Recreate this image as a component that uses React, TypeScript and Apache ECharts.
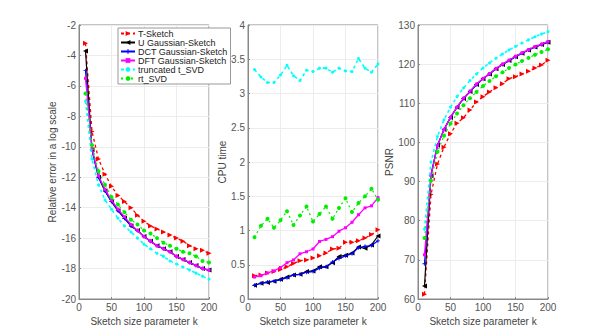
import React, { useEffect, useRef } from "react";
import * as echarts from "echarts";

const kValues = [10, 20, 30, 40, 50, 60, 70, 80, 90, 100, 110, 120, 130, 140, 150, 160, 170, 180, 190, 200];

const seriesNames = ["T-Sketch", "U Gaussian-Sketch", "DCT Gaussian-Sketch", "DFT Gaussian-Sketch", "truncated t_SVD", "rt_SVD"];

// Panel 1: relative error (log scale)
const errT = [-3.2, -9.0, -10.8, -11.8, -12.6, -13.2, -13.6, -14.0, -14.5, -14.9, -15.2, -15.4, -15.6, -15.8, -16.0, -16.2, -16.5, -16.7, -16.8, -17.0];
const errU = [-3.7, -10.2, -12.0, -12.9, -13.6, -14.2, -14.7, -15.2, -15.5, -15.9, -16.2, -16.5, -16.7, -16.9, -17.2, -17.4, -17.6, -17.8, -18.0, -18.1];
const errDCT = [-5.0, -10.2, -12.0, -12.9, -13.6, -14.2, -14.7, -15.2, -15.5, -15.9, -16.2, -16.5, -16.7, -16.9, -17.2, -17.4, -17.6, -17.8, -18.0, -18.1];
const errDFT = [-5.5, -10.1, -11.9, -12.8, -13.5, -14.1, -14.6, -15.1, -15.5, -15.9, -16.2, -16.5, -16.7, -16.9, -17.2, -17.4, -17.6, -17.8, -18.0, -18.1];
const errTSVD = [-7.0, -10.8, -12.5, -13.5, -14.1, -14.7, -15.2, -15.6, -16.0, -16.4, -16.7, -17.0, -17.2, -17.5, -17.7, -17.9, -18.1, -18.3, -18.5, -18.7];
const errRT = [-6.5, -9.9, -11.6, -12.5, -13.3, -13.8, -14.3, -14.8, -15.1, -15.5, -15.7, -16.0, -16.3, -16.5, -16.7, -16.9, -17.0, -17.2, -17.5, -17.6];

// Panel 2: CPU time
const cpuT = [0.34, 0.35, 0.38, 0.40, 0.43, 0.47, 0.52, 0.56, 0.57, 0.60, 0.63, 0.67, 0.73, 0.74, 0.83, 0.83, 0.85, 0.89, 0.94, 1.01];
const cpuU = [0.20, 0.23, 0.24, 0.26, 0.29, 0.32, 0.35, 0.36, 0.40, 0.41, 0.47, 0.47, 0.53, 0.62, 0.64, 0.67, 0.76, 0.74, 0.79, 0.92];
const cpuDCT = [0.20, 0.23, 0.25, 0.26, 0.28, 0.31, 0.35, 0.36, 0.39, 0.40, 0.45, 0.47, 0.54, 0.59, 0.63, 0.66, 0.75, 0.77, 0.78, 0.85];
const cpuDFT = [0.32, 0.34, 0.38, 0.41, 0.46, 0.53, 0.57, 0.66, 0.69, 0.73, 0.84, 0.87, 0.91, 0.99, 1.04, 1.12, 1.23, 1.33, 1.36, 1.48];
const cpuTSVD = [3.35, 3.24, 3.16, 3.16, 3.27, 3.41, 3.26, 3.19, 3.34, 3.32, 3.37, 3.37, 3.31, 3.37, 3.33, 3.32, 3.51, 3.37, 3.31, 3.43];
const cpuRT = [0.90, 1.07, 1.17, 1.04, 1.15, 1.28, 1.08, 1.22, 1.35, 1.13, 1.24, 1.35, 1.17, 1.33, 1.47, 1.27, 1.40, 1.50, 1.61, 1.45];

// Panel 3: PSNR
const psnrT = [61.2, 86.7, 94.5, 98.8, 102.2, 104.9, 106.3, 108.3, 110.3, 111.7, 112.9, 114.0, 115.0, 116.3, 116.8, 117.5, 118.2, 119.0, 119.8, 121.0];
const psnrU = [63.3, 91.5, 99.3, 103.3, 106.4, 109.0, 111.2, 113.0, 114.8, 116.3, 117.5, 118.8, 119.9, 120.9, 121.9, 122.8, 123.6, 124.4, 125.0, 125.6];
const psnrDCT = [69.0, 91.8, 99.3, 103.3, 106.4, 109.0, 111.2, 113.0, 114.8, 116.3, 117.5, 118.8, 119.9, 120.9, 121.9, 122.8, 123.6, 124.4, 125.0, 125.6];
const psnrDFT = [71.3, 91.6, 99.2, 103.3, 106.4, 109.0, 111.3, 113.1, 114.9, 116.3, 117.6, 118.9, 120.0, 121.0, 122.0, 122.9, 123.7, 124.5, 125.1, 125.8];
const psnrTSVD = [77.8, 95.0, 101.5, 105.8, 109.0, 111.7, 113.9, 115.8, 117.5, 119.0, 120.3, 121.5, 122.6, 123.6, 124.5, 125.4, 126.2, 127.0, 127.7, 128.3];
const psnrRT = [75.6, 90.2, 97.6, 101.7, 104.8, 107.4, 109.5, 111.3, 112.9, 114.4, 115.7, 116.9, 117.9, 119.0, 119.9, 120.8, 121.6, 122.4, 123.1, 123.8];

const panelData = [
  [errT, errU, errDCT, errDFT, errTSVD, errRT],
  [cpuT, cpuU, cpuDCT, cpuDFT, cpuTSVD, cpuRT],
  [psnrT, psnrU, psnrDCT, psnrDFT, psnrTSVD, psnrRT],
];

const yNames = ["Relative error in a log scale", "CPU time", "PSNR"];
const yMins = [-20, 0, 60];
const yMaxs = [-2, 4, 130];
const yIntervals = [2, 0.5, 10];

const plusPath = "path://M4,0H6V4H10V6H6V10H4V6H0V4H4Z";

const styles: any[] = [
  { color: "#ff0000", type: [3, 3], symbol: "triangle", rotate: -90, size: 5, width: 1.3 },
  { color: "#000000", type: "solid", symbol: "triangle", rotate: 90, size: 5, width: 1.2 },
  { color: "#0000ff", type: "solid", symbol: plusPath, rotate: 0, size: 4, width: 1.2 },
  { color: "#ff00ff", type: "solid", symbol: "rect", rotate: 0, size: 3, width: 1.3 },
  { color: "#00ffff", type: [3, 3], symbol: "circle", rotate: 0, size: 3, width: 1.6 },
  { color: "#00ee00", type: [2, 3], symbol: "circle", rotate: 0, size: 4, width: 1.2 },
];

const lefts = [79, 248, 418];

export default function App() {
  const ref = useRef<HTMLDivElement>(null);
  useEffect(() => {
    if (!ref.current) return;
    const chart = echarts.init(ref.current, null, { renderer: "svg" });
    const font = "Liberation Sans, Arial, sans-serif";
    const grids = lefts.map((l) => ({
      left: l,
      top: 25,
      width: 130,
      height: 274,
      show: true,
      borderColor: "#888",
      borderWidth: 1,
      backgroundColor: "#fff",
    }));
    const xAxes = lefts.map((_, i) => ({
      type: "value",
      gridIndex: i,
      min: 0,
      max: 200,
      interval: 50,
      name: "Sketch size parameter k",
      nameLocation: "middle",
      nameGap: 13,
      nameTextStyle: { fontSize: 10, color: "#444", fontFamily: font },
      axisLine: { show: true, onZero: false, lineStyle: { color: "#888" } },
      axisTick: { show: true, inside: true, length: 2, lineStyle: { color: "#888" } },
      axisLabel: { fontSize: 10, color: "#555", fontFamily: font, margin: 3 },
      splitLine: { show: true, lineStyle: { color: "#ececec" } },
    }));
    const yAxes = lefts.map((_, i) => ({
      type: "value",
      gridIndex: i,
      min: yMins[i],
      max: yMaxs[i],
      interval: yIntervals[i],
      name: yNames[i],
      nameLocation: "middle",
      nameRotate: 90,
      nameGap: i === 0 ? 19 : i === 1 ? 18 : 21,
      nameTextStyle: { fontSize: 10, color: "#444", fontFamily: font },
      axisLine: { show: true, onZero: false, lineStyle: { color: "#888" } },
      axisTick: { show: true, inside: true, length: 2, lineStyle: { color: "#888" } },
      axisLabel: { fontSize: 10, color: "#555", fontFamily: font, margin: 3 },
      splitLine: { show: true, lineStyle: { color: "#ececec" } },
    }));
    const series: any[] = [];
    panelData.forEach((panel, p) => {
      panel.forEach((vals, s) => {
        const st = styles[s];
        series.push({
          name: seriesNames[s],
          type: "line",
          xAxisIndex: p,
          yAxisIndex: p,
          data: kValues.map((k, j) => [k, vals[j]]),
          symbol: st.symbol,
          symbolRotate: st.rotate,
          symbolSize: st.size,
          showSymbol: true,
          showAllSymbol: true,
          lineStyle: { color: st.color, width: st.width, type: st.type },
          itemStyle: { color: st.color, borderWidth: 0 },
          emphasis: { disabled: true },
          z: 2 + s,
        });
      });
    });
    chart.setOption({
      animation: false,
      textStyle: { fontFamily: font },
      grid: grids,
      xAxis: xAxes,
      yAxis: yAxes,
      legend: {
        data: seriesNames,
        orient: "vertical",
        left: 118,
        top: 28,
        z: 20,
        itemWidth: 14,
        itemHeight: 6,
        itemGap: 0,
        padding: [1, 3, 1, 2],
        backgroundColor: "#fff",
        borderColor: "#999",
        borderWidth: 1,
        borderRadius: 0,
        textStyle: { fontSize: 9, lineHeight: 9, color: "#222", fontFamily: font, padding: [0, 0, 0, -2] },
      },
      series,
    });
    return () => chart.dispose();
  }, []);
  return <div ref={ref} style={{ position: "fixed", left: 0, top: 0, width: 605, height: 336, background: "#fff" }} />;
}
